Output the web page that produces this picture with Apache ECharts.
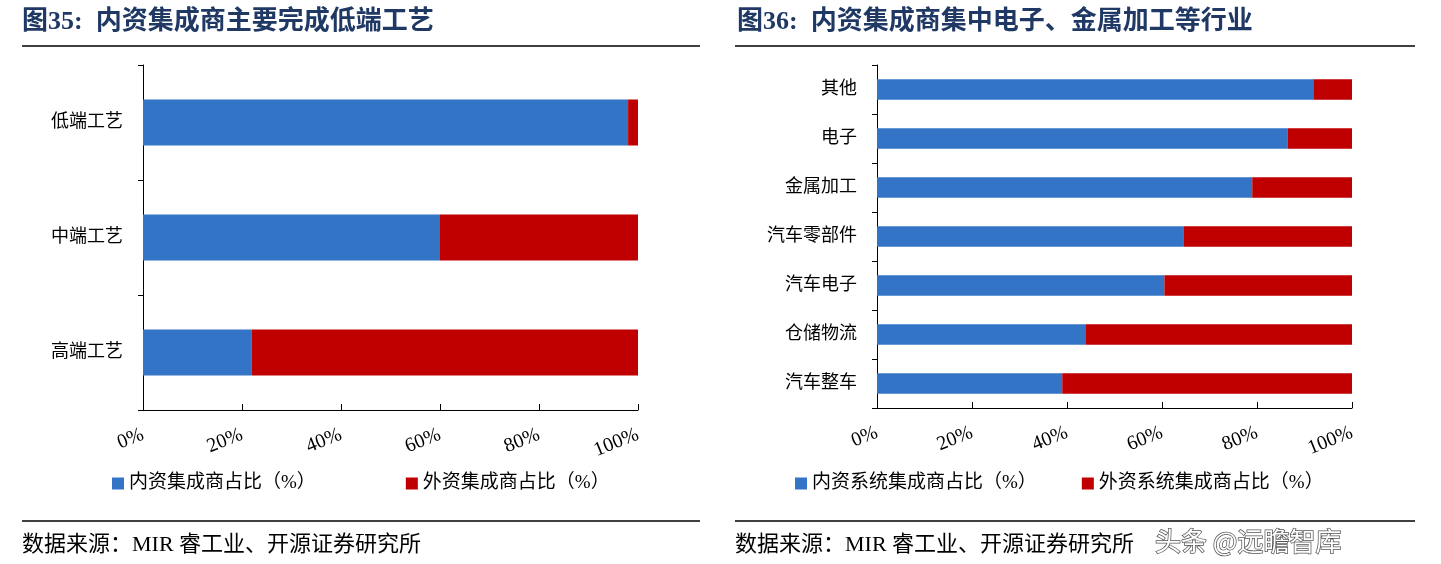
<!DOCTYPE html>
<html><head><meta charset="utf-8">
<script src="https://cdn.jsdelivr.net/npm/echarts@6/dist/echarts.min.js"></script>
<style>html,body{margin:0;background:#fff}#c{width:1441px;height:564px}</style>
</head><body><div id="c"></div>
<script>
// left chart
var leftCats = ["高端工艺", "中端工艺", "低端工艺"]
var leftDomestic = [22, 60, 98]
var leftForeign = [78, 40, 2]
// right chart
var rightCats = ["汽车整车", "仓储物流", "汽车电子", "汽车零部件", "金属加工", "电子", "其他"]
var rightDomestic = [39, 44, 60.5, 64.5, 79, 86.5, 92]
var rightForeign = [61, 56, 39.5, 35.5, 21, 13.5, 8]
var xTicks = [0, 20, 40, 60, 80, 100]

var serif = "'Liberation Serif','Noto Sans CJK SC',serif"
var blue = "#3474c6", red = "#c00000"

function xAxis(idx) {
    return {
        gridIndex: idx, type: "value", min: 0, max: 100, interval: 20,
        axisLine: {show: true, lineStyle: {color: "#000"}},
        axisTick: {show: true, inside: true, length: 6, lineStyle: {color: "#000"}},
        splitLine: {show: false},
        axisLabel: {formatter: "{value}%", rotate: 22, margin: 24, color: "#000", fontSize: 20, fontFamily: serif}
    }
}
function yAxis(idx, cats) {
    return {
        gridIndex: idx, type: "category", data: cats,
        axisLine: {show: true, lineStyle: {color: "#000"}},
        axisTick: {show: true, length: 5, lineStyle: {color: "#000"}},
        axisLabel: {color: "#000", fontSize: 18, fontFamily: serif, margin: 20}
    }
}
function bar(name, x, data, color, width) {
    return {name: name, type: "bar", stack: "s" + x, xAxisIndex: x, yAxisIndex: x,
        data: data, barWidth: width, itemStyle: {color: color}, silent: true}
}
function hline(x1, x2, y, w) {
    return {type: "line", shape: {x1: x1, y1: y, x2: x2, y2: y}, style: {stroke: "#000", lineWidth: w}}
}
function txt(x, y, s, size, color, bold) {
    return {type: "text", x: x, y: y, style: {text: s, fontSize: size, fill: color,
        fontWeight: bold ? "bold" : "normal", fontFamily: serif, textVerticalAlign: "middle"}}
}

var chart = echarts.init(document.getElementById("c"))
chart.setOption({
    animation: false,
    grid: [
        {left: 143, width: 495, top: 65, height: 345},
        {left: 877, width: 475, top: 65, height: 343}
    ],
    xAxis: [xAxis(0), xAxis(1)],
    yAxis: [yAxis(0, leftCats), yAxis(1, rightCats)],
    legend: [
        {data: ["内资集成商占比（%）", "外资集成商占比（%）"], left: 107, top: 469, itemGap: 90, icon: "rect",
            itemWidth: 12, itemHeight: 12, textStyle: {fontSize: 19, fontFamily: serif, color: "#000"}},
        {data: ["内资系统集成商占比（%）", "外资系统集成商占比（%）"], left: 790, top: 469, itemGap: 45, icon: "rect",
            itemWidth: 12, itemHeight: 12, textStyle: {fontSize: 19, fontFamily: serif, color: "#000"}}
    ],
    series: [
        bar("内资集成商占比（%）", 0, leftDomestic, blue, "40%"),
        bar("外资集成商占比（%）", 0, leftForeign, red, "40%"),
        bar("内资系统集成商占比（%）", 1, rightDomestic, blue, "42%"),
        bar("外资系统集成商占比（%）", 1, rightForeign, red, "42%")
    ],
    graphic: [
        txt(22, 22, "图35:  内资集成商主要完成低端工艺", 26, "#1f3864", true),
        txt(737, 22, "图36:  内资集成商集中电子、金属加工等行业", 26, "#1f3864", true),
        hline(22, 700, 46, 1.5),
        hline(735, 1415, 46, 1.5),
        hline(22, 700, 521, 1.5),
        hline(735, 1415, 521, 1.5),
        txt(22, 545, "数据来源：MIR 睿工业、开源证券研究所", 22, "#000", false),
        txt(735, 545, "数据来源：MIR 睿工业、开源证券研究所", 22, "#000", false),
        {type: "text", x: 1155, y: 528, style: {text: "头条 @远瞻智库", fontSize: 26, fill: "#fff",
            stroke: "#555", lineWidth: 1.5, fontFamily: "'Noto Sans CJK SC',sans-serif"}}
    ]
})
</script>
</body></html>
